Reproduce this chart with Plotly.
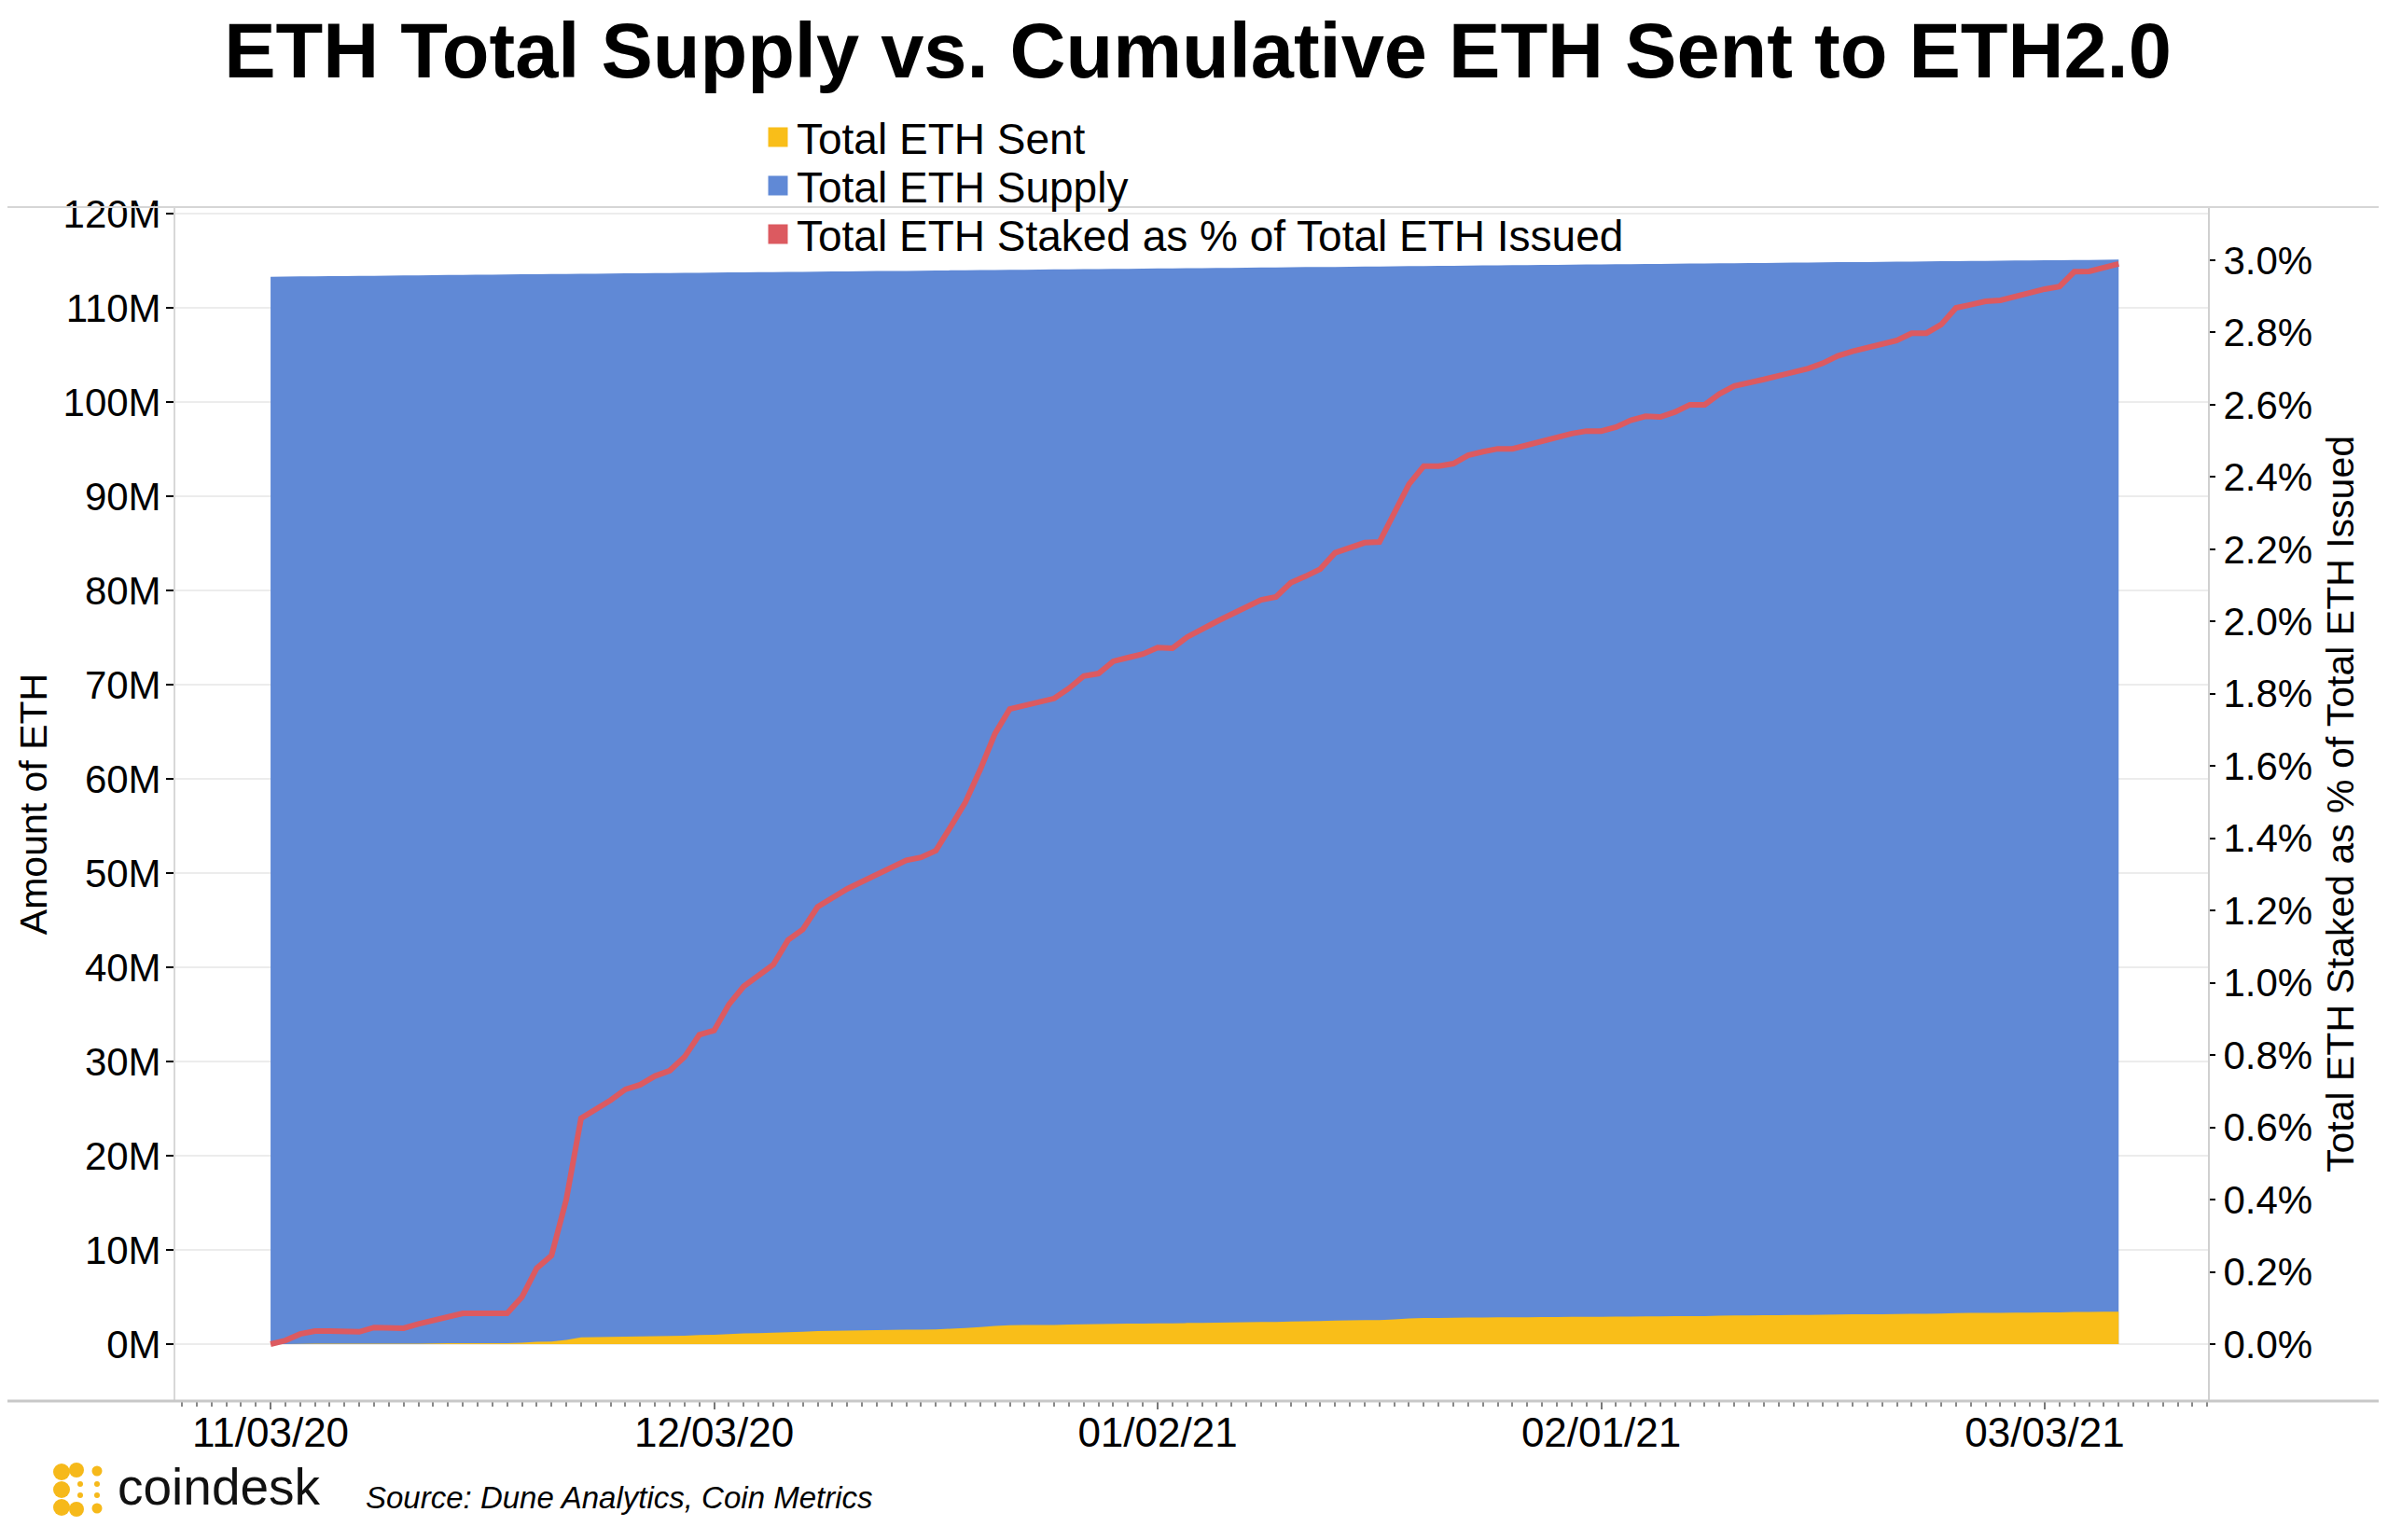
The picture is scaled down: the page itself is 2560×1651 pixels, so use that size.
import plotly.graph_objects as go
import pandas as pd

# ---------------- data ----------------
dates = pd.date_range("2020-11-03", "2021-03-08", freq="D").strftime("%Y-%m-%d").tolist()

# Total ETH supply (millions)
supply_m = [
    113.30, 113.31, 113.33, 113.34, 113.36, 113.37, 113.39, 113.40, 113.42, 113.43,
    113.45, 113.46, 113.48, 113.49, 113.51, 113.52, 113.53, 113.55, 113.56, 113.58,
    113.59, 113.61, 113.62, 113.64, 113.65, 113.66, 113.68, 113.69, 113.71, 113.72,
    113.74, 113.75, 113.77, 113.78, 113.79, 113.81, 113.82, 113.84, 113.85, 113.87,
    113.88, 113.90, 113.91, 113.92, 113.94, 113.95, 113.97, 113.98, 114.00, 114.01,
    114.03, 114.04, 114.05, 114.07, 114.08, 114.10, 114.11, 114.13, 114.14, 114.16,
    114.17, 114.19, 114.20, 114.21, 114.23, 114.24, 114.26, 114.27, 114.29, 114.30,
    114.32, 114.33, 114.34, 114.36, 114.37, 114.39, 114.40, 114.42, 114.43, 114.45,
    114.46, 114.47, 114.49, 114.50, 114.52, 114.53, 114.55, 114.56, 114.58, 114.59,
    114.60, 114.62, 114.63, 114.65, 114.66, 114.68, 114.69, 114.71, 114.72, 114.73,
    114.75, 114.76, 114.78, 114.79, 114.81, 114.82, 114.84, 114.85, 114.86, 114.88,
    114.89, 114.91, 114.92, 114.94, 114.95, 114.97, 114.98, 115.00, 115.01, 115.02,
    115.04, 115.05, 115.07, 115.08, 115.10, 115.11,
]

# Cumulative ETH sent to the ETH2.0 deposit contract (millions)
sent_m = [
    0.00, 0.01, 0.03, 0.04, 0.04, 0.04, 0.04, 0.05, 0.05, 0.05,
    0.06, 0.07, 0.09, 0.10, 0.10, 0.10, 0.10, 0.15, 0.24, 0.28,
    0.45, 0.71, 0.74, 0.77, 0.80, 0.82, 0.84, 0.86, 0.90, 0.97,
    0.99, 1.07, 1.13, 1.16, 1.20, 1.27, 1.31, 1.38, 1.41, 1.43,
    1.46, 1.48, 1.50, 1.53, 1.53, 1.56, 1.63, 1.71, 1.81, 1.93,
    2.00, 2.02, 2.03, 2.04, 2.07, 2.11, 2.12, 2.16, 2.17, 2.18,
    2.20, 2.20, 2.24, 2.26, 2.28, 2.31, 2.33, 2.35, 2.36, 2.41,
    2.43, 2.45, 2.50, 2.52, 2.54, 2.54, 2.63, 2.72, 2.78, 2.78,
    2.79, 2.82, 2.83, 2.84, 2.84, 2.85, 2.86, 2.88, 2.89, 2.90,
    2.90, 2.91, 2.93, 2.94, 2.94, 2.96, 2.98, 2.98, 3.02, 3.04,
    3.05, 3.06, 3.08, 3.09, 3.10, 3.12, 3.14, 3.16, 3.17, 3.18,
    3.19, 3.21, 3.22, 3.24, 3.30, 3.31, 3.32, 3.32, 3.34, 3.35,
    3.36, 3.37, 3.42, 3.42, 3.43, 3.44,
]

# Total ETH staked as % of total ETH issued
staked_pct = [
    0.000, 0.010, 0.028, 0.036, 0.036, 0.035, 0.034, 0.046, 0.045, 0.044,
    0.056, 0.066, 0.076, 0.085, 0.085, 0.085, 0.085, 0.130, 0.210, 0.245,
    0.400, 0.625, 0.648, 0.675, 0.705, 0.718, 0.742, 0.757, 0.795, 0.856,
    0.868, 0.940, 0.990, 1.020, 1.050, 1.118, 1.148, 1.210, 1.237, 1.260,
    1.280, 1.300, 1.320, 1.339, 1.347, 1.366, 1.432, 1.500, 1.590, 1.690,
    1.758, 1.768, 1.778, 1.787, 1.815, 1.849, 1.856, 1.890, 1.900, 1.910,
    1.928, 1.926, 1.957, 1.980, 2.000, 2.020, 2.040, 2.060, 2.068, 2.107,
    2.125, 2.145, 2.190, 2.205, 2.218, 2.220, 2.300, 2.380, 2.430, 2.430,
    2.437, 2.460, 2.470, 2.478, 2.478, 2.489, 2.500, 2.510, 2.520, 2.527,
    2.527, 2.538, 2.557, 2.568, 2.566, 2.580, 2.600, 2.600, 2.630, 2.652,
    2.660, 2.670, 2.680, 2.690, 2.700, 2.715, 2.735, 2.748, 2.758, 2.768,
    2.778, 2.798, 2.798, 2.822, 2.868, 2.877, 2.886, 2.889, 2.900, 2.910,
    2.920, 2.927, 2.968, 2.969, 2.979, 2.990,
]

series_names = ["Total ETH Sent", "Total ETH Supply", "Total ETH Staked as % of Total ETH Issued"]
x_tick_dates = ["2020-11-03", "2020-12-03", "2021-01-02", "2021-02-01", "2021-03-03"]

# ---------------- styling ----------------
BLUE = "#6089d6"
YELLOW = "#f9be19"
RED = "#dc5a60"
FONT = "Liberation Sans"

OFF = 8                      # page body margin of the html page
W, H = 2560 - OFF, 1651 - OFF
ML, MT = 188 - OFF, 222 - OFF
PW, PH = 2179, 1280
MR, MB = W - ML - PW, H - MT - PH


def px_x(px):  # window pixel -> paper x
    return (px - OFF - ML) / PW


def px_y(py):  # window pixel -> paper y
    return (MT + PH - (py - OFF)) / PH


fig = go.Figure()

fig.add_trace(go.Scatter(
    x=dates, y=supply_m, name=series_names[1], mode="none",
    fill="tozeroy", fillcolor=BLUE, showlegend=False, hoverinfo="x+y",
))
fig.add_trace(go.Scatter(
    x=dates, y=sent_m, name=series_names[0], mode="none",
    fill="tozeroy", fillcolor=YELLOW, showlegend=False, hoverinfo="x+y",
))
fig.add_trace(go.Scatter(
    x=dates, y=staked_pct, name=series_names[2], mode="lines",
    line=dict(color=RED, width=6), yaxis="y2", showlegend=False,
))

# legend entries (square swatches), one legend per row
for name, col, lg in zip(series_names, [YELLOW, BLUE, RED], ["legend", "legend2", "legend3"]):
    fig.add_trace(go.Scatter(
        x=[None], y=[None], mode="markers", name=name, legend=lg,
        marker=dict(symbol="square", size=16, color=col, line=dict(color=col, width=5)),
        showlegend=True,
    ))

legend_common = dict(
    x=px_x(814), xanchor="left", yanchor="middle",
    bgcolor="rgba(0,0,0,0)", borderwidth=0,
    font=dict(family=FONT, size=46, color="#000"),
)
row_y = [147, 199, 251]

fig.update_layout(
    width=W, height=H,
    margin=dict(l=ML, r=MR, t=MT, b=MB),
    paper_bgcolor="white", plot_bgcolor="white",
    title=dict(
        text="<b>ETH Total Supply vs. Cumulative ETH Sent to ETH2.0</b>",
        x=0.5, xanchor="center", y=1 - (54 - OFF) / H, yanchor="middle",
        font=dict(family=FONT, size=83, color="#000"),
    ),
    legend=dict(y=px_y(row_y[0]), **legend_common),
    legend2=dict(y=px_y(row_y[1]), **legend_common),
    legend3=dict(y=px_y(row_y[2]), **legend_common),
    xaxis=dict(
        type="date",
        range=["2020-10-27 13:26", "2021-03-14 01:00"],
        tickvals=x_tick_dates,
        tickformat="%m/%d/%y",
        ticks="outside", ticklen=8, tickwidth=1.5, tickcolor="#777",
        ticklabelstandoff=-13,
        tickfont=dict(family=FONT, size=44, color="#000"),
        showgrid=False, zeroline=False, showline=False,
        minor=dict(dtick=86400000, tick0="2020-11-03", ticks="outside",
                   ticklen=5, tickwidth=1.5, tickcolor="#888", showgrid=False),
    ),
    yaxis=dict(
        range=[-6.04, 120.69],
        tickmode="linear", tick0=0, dtick=10, ticksuffix="M",
        ticks="outside", ticklen=8, tickwidth=1.5, tickcolor="#000",
        ticklabelstandoff=-3,
        tickfont=dict(family=FONT, size=42, color="#000"),
        showgrid=True, gridcolor="#ececec", gridwidth=1.5,
        zeroline=False, showline=True, linecolor="#d8d8d8", linewidth=2,
        title=dict(text="Amount of ETH", font=dict(family=FONT, size=41, color="#000"), standoff=4),
    ),
    yaxis2=dict(
        overlaying="y", side="right",
        range=[-0.1575, 3.147],
        tickmode="linear", tick0=0, dtick=0.2, tickformat=".1f", ticksuffix="%",
        ticks="outside", ticklen=6, tickwidth=1.5, tickcolor="#000",
        tickfont=dict(family=FONT, size=42, color="#000"),
        showgrid=False, zeroline=False, showline=True, linecolor="#d0d0d0", linewidth=2,
        title=dict(text="Total ETH Staked as % of Total ETH Issued",
                   font=dict(family=FONT, size=41, color="#000"), standoff=16),
    ),
)

shapes = [
    # dotted zero line
    dict(type="line", xref="paper", yref="y", x0=0, x1=1, y0=0, y1=0,
         line=dict(color="#aaaaaa", width=2, dash="dot"), layer="below"),
    # full-width top and bottom frame lines
    dict(type="line", xref="paper", yref="paper", x0=px_x(OFF), x1=px_x(2550), y0=1, y1=1,
         line=dict(color="#d6d6d6", width=2)),
    dict(type="line", xref="paper", yref="paper", x0=px_x(OFF), x1=px_x(2550), y0=0, y1=0,
         line=dict(color="#c8c8c8", width=3)),
]

# coindesk logo mark (decorative dots)
LOGO = "#f6b91a"
dots = [(66, 1578, 9), (66, 1597, 9), (66, 1616, 9), (82, 1576, 8), (82, 1618, 8),
        (104, 1577, 5.5), (104, 1617, 5.5), (86, 1591, 3), (86, 1603, 3),
        (104, 1591, 3), (104, 1603, 3)]
for cx, cy, r in dots:
    shapes.append(dict(type="circle", xref="paper", yref="paper",
                       x0=px_x(cx - r), x1=px_x(cx + r), y0=px_y(cy + r), y1=px_y(cy - r),
                       fillcolor=LOGO, line=dict(width=0)))

fig.update_layout(shapes=shapes)

fig.add_annotation(
    text="coindesk", xref="paper", yref="paper", x=px_x(124), y=px_y(1594),
    xanchor="left", yanchor="middle", showarrow=False,
    font=dict(family=FONT, size=55, color="#111"),
)
fig.add_annotation(
    text="<i>Source: Dune Analytics, Coin Metrics</i>", xref="paper", yref="paper",
    x=px_x(390), y=px_y(1605), xanchor="left", yanchor="middle", showarrow=False,
    font=dict(family=FONT, size=33, color="#000"),
)

fig.write_html("out.html")
